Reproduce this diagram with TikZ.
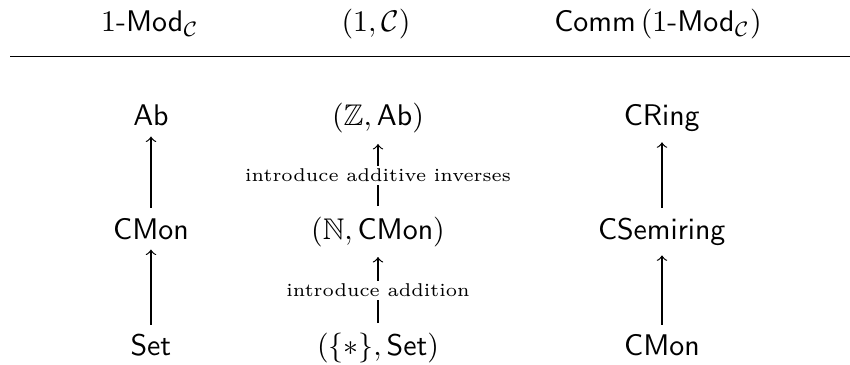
\documentclass[tikz,border=0pt]{standalone}
\usepackage{amsmath,amssymb}

\begin{document}
\begin{tikzpicture}[obj/.style={anchor=base},
    lbl/.style={fill=white,inner sep=1pt,font=\fontsize{6.2}{7}\selectfont}]
    \useasboundingbox (0,0) rectangle (10,4.294);
    % headings
    \node[obj] (hmod) at (1.765,3.918) {$1\text{-}\mathsf{Mod}_{\mathcal{C}}$};
    \node[obj] (hpair) at (4.424,3.918) {$(1,\mathcal{C})$};
    \node[obj] (hcomm) at (7.741,3.918) {$\mathsf{Comm}\,(1\text{-}\mathsf{Mod}_{\mathcal{C}})$};
    \draw (0.118,3.629) coordinate (rulel) -- (10,3.629) coordinate (ruler);
    % left column
    \node[obj] (ab) at (1.776,2.812) {$\mathsf{Ab}$};
    \node[obj] (cmonl) at (1.776,1.482) {$\mathsf{CMon}$};
    \node[obj] (set) at (1.776,0.106) {$\mathsf{Set}$};
    \draw[->] (set)--(cmonl);
    \draw[->] (cmonl)--(ab);
    % middle column
    \node[obj] (zab) at (4.447,2.812) {$(\mathbb{Z},\mathsf{Ab})$};
    \node[obj] (ncmon) at (4.447,1.482) {$(\mathbb{N},\mathsf{CMon})$};
    \node[obj] (ptset) at (4.447,0.106) {$(\{*\},\mathsf{Set})$};
    \draw[->] (ptset)--node[lbl]{introduce addition}(ncmon);
    \draw[->] (ncmon)--node[lbl]{introduce additive inverses}(zab);
    % right column
    \node[obj] (cring) at (7.788,2.812) {$\mathsf{CRing}$};
    \node[obj] (csemi) at (7.788,1.482) {$\mathsf{CSemiring}$};
    \node[obj] (cmonr) at (7.788,0.106) {$\mathsf{CMon}$};
    \draw[->] (cmonr)--(csemi);
    \draw[->] (csemi)--(cring);
\end{tikzpicture}
\end{document}
